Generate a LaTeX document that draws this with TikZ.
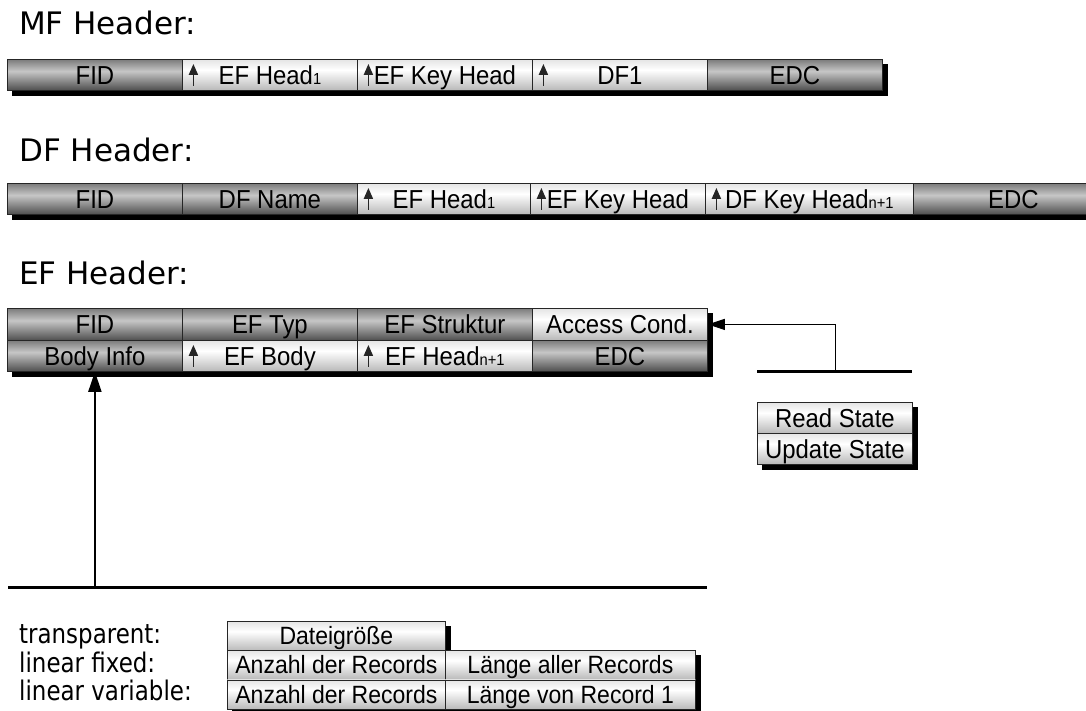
\documentclass[tikz,border=0pt]{standalone}
\usepackage{fontspec}
\setmainfont{Liberation Sans}[FakeStretch=0.92]
\newfontfamily\titelschrift{DejaVu Sans}
\newfontfamily\legendenschrift{DejaVu Sans}[FakeStretch=0.85]
\usetikzlibrary{arrows.meta, calc, positioning, backgrounds}
\definecolor{schatten}{HTML}{9A9A9A}
\definecolor{dunkeloben}{HTML}{7C7C7C}
\definecolor{dunkelmitte}{HTML}{C6C6C6}
\definecolor{dunkelunten}{HTML}{4E4E4E}
\definecolor{helloben}{HTML}{E4E4E4}
\definecolor{hellmitte}{HTML}{FFFFFF}
\definecolor{hellunten}{HTML}{B8B8B8}
\pgfdeclareverticalshading{dunkelverlauf}{100bp}{color(0bp)=(dunkelunten); color(25bp)=(dunkelunten);
  color(56bp)=(dunkelmitte); color(75bp)=(dunkeloben); color(100bp)=(dunkeloben)}
\pgfdeclareverticalshading{hellverlauf}{100bp}{color(0bp)=(hellunten); color(25bp)=(hellunten);
  color(58bp)=(hellmitte); color(75bp)=(helloben); color(100bp)=(helloben)}
\newcommand{\tief}[1]{{\fontsize{16}{16}\selectfont #1}}

\begin{document}
\begin{tikzpicture}[x=1pt, y=-1pt,
    zelle/.style={draw=black!85, line width=0.8pt, minimum height=31pt, inner sep=0pt,
                  text height=18.5pt, text depth=0pt,
                  anchor=north west, font=\fontsize{26}{26}\selectfont},
    dunkel/.style={shading=dunkelverlauf},
    hell/.style={shading=hellverlauf},
    zeiger/.style={hell, path picture={
        \draw[line width=1.8pt, -{Triangle[length=11pt,width=9pt]}]
          ([xshift=11pt,yshift=-11pt]path picture bounding box.west) --
          ([xshift=11pt,yshift=11pt]path picture bounding box.west);}},
    titel/.style={anchor=base west, inner sep=0pt, font=\titelschrift\fontsize{31}{31}\selectfont},
    legende/.style={anchor=base west, inner sep=0pt, font=\legendenschrift\fontsize{27}{27}\selectfont},
    leiste/.style={line width=3pt},
    verbinder/.style={line width=1pt, -{Triangle[length=17pt,width=11pt]}},
    hochpfeil/.style={line width=2pt, -{Triangle[length=20pt,width=13pt]}}]
  \useasboundingbox (0,0) rectangle (1086,711);

  % MF Header
  \node[titel] (mftitel) at (19,35) {MF Header:};
  \foreach \i/\x/\w/\art/\txt in {1/7/175/dunkel/FID, 2/182/175/zeiger/{EF Head\tief{1}},
      3/357/175/zeiger/{EF Key Head}, 4/532/175/zeiger/DF1, 5/707/175/dunkel/EDC}
    \node[zelle, \art, minimum width=\w pt] (mf\i) at (\x,59) {\txt};

  % DF Header
  \node[titel] (dftitel) at (19,162) {DF Header:};
  \foreach \i/\x/\w/\art/\txt in {1/7/175/dunkel/FID, 2/182/175/dunkel/{DF Name},
      3/357/173/zeiger/{EF Head\tief{1}}, 4/530/175/zeiger/{EF Key Head},
      5/705/208/zeiger/{DF Key Head\tief{n+1}}, 6/913/200/dunkel/EDC}
    \node[zelle, \art, minimum width=\w pt] (df\i) at (\x,183) {\txt};

  % EF Header, zwei Zeilen
  \node[titel] (eftitel) at (19,284) {EF Header:};
  \foreach \i/\x/\art/\txt in {1/7/dunkel/FID, 2/182/dunkel/{EF Typ},
      3/357/dunkel/{EF Struktur}, 4/532/hell/{Access Cond.}}
    \node[zelle, \art, minimum width=175pt, minimum height=32pt] (ef\i) at (\x,308) {\txt};
  \foreach \i/\x/\art/\txt in {5/7/dunkel/{Body Info}, 6/182/zeiger/{EF Body},
      7/357/zeiger/{EF Head\tief{n+1}}, 8/532/dunkel/EDC}
    \node[zelle, \art, minimum width=175pt] (ef\i) at (\x,340) {\txt};

  % Zugriffsbedingungen
  \node[zelle, hell, minimum width=155pt] (rs1) at (757,402) {Read State};
  \node[zelle, hell, minimum width=155pt] (rs2) at (757,433) {Update State};
  \coordinate (za) at (757,371);
  \coordinate (zb) at (912,371);
  \coordinate (zk) at (835,371);
  \draw[leiste] (za) -- (zb);
  \draw[verbinder] (zk) |- (ef4.east);

  % Body Info je nach Struktur
  \coordinate (ba) at (8,587);
  \coordinate (bb) at (707,587);
  \draw[leiste] (ba) -- (bb);
  \draw[hochpfeil] (ba -| ef5.south) -- (ef5.south);

  \node[legende] (l1) at (19,643) {transparent:};
  \node[legende] (l2) at (19,672) {linear fixed:};
  \node[legende] (l3) at (19,700) {linear variable:};
  \begin{scope}[zelle/.append style={minimum height=29.5pt, text height=17.5pt, font=\fontsize{25}{25}\selectfont}]
    \node[zelle, hell, minimum width=218pt] (b1) at (227,621) {Dateigröße};
    \node[zelle, hell, minimum width=218pt] (b2) at (227,650) {Anzahl der Records};
    \node[zelle, hell, minimum width=250pt] (b3) at (445,650) {Länge aller Records};
    \node[zelle, hell, minimum width=218pt] (b4) at (227,679.5) {Anzahl der Records};
    \node[zelle, hell, minimum width=250pt] (b5) at (445,679.5) {Länge von Record 1};
  \end{scope}

  % Schatten hinter den Zeilen
  \begin{scope}[on background layer, fill=schatten]
    \fill ($(mf1.north west)+(5,5)$) rectangle ($(mf5.south east)+(5,5)$);
    \fill ($(df1.north west)+(5,5)$) rectangle ($(df6.south east)+(5,5)$);
    \fill ($(ef1.north west)+(5,5)$) rectangle ($(ef8.south east)+(5,5)$);
    \fill ($(rs1.north west)+(5,5)$) rectangle ($(rs2.south east)+(5,5)$);
    \fill ($(b1.north west)+(5,5)$) rectangle ($(b1.south east)+(5,5)$);
    \fill ($(b2.north west)+(5,5)$) rectangle ($(b5.south east)+(5,5)$);
  \end{scope}
\end{tikzpicture}
\end{document}
